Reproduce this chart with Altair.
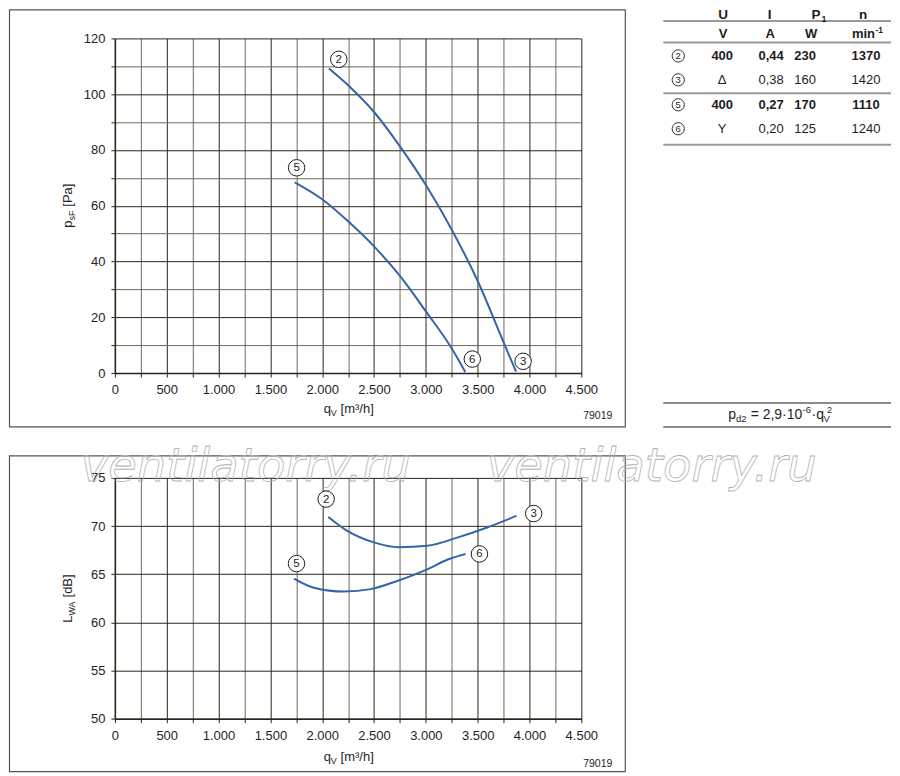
import altair as alt
import pandas as pd

# ---------------- data ----------------
# upper chart: static pressure p_sF [Pa] over q_V [m3/h]
q_2_top = [2065, 2250, 2500, 2750, 3000, 3250, 3500, 3750, 3870]
p_2_top = [109.2, 103.2, 93.6, 81.3, 67.4, 51.4, 33.0, 11.0, 0.5]
q_5_top = [1735, 2000, 2250, 2500, 2750, 3000, 3250, 3380]
p_5_top = [68.4, 62.3, 54.4, 45.4, 34.8, 22.1, 8.8, 0.4]

# lower chart: sound power L_WA [dB] over q_V [m3/h]
q_2_low = [2059, 2242, 2499, 2740, 3013, 3302, 3591, 3874]
L_2_low = [70.95, 69.5, 68.3, 67.8, 67.95, 68.8, 69.85, 71.06]
q_5_low = [1728, 1920, 2210, 2467, 2724, 3013, 3206, 3382]
L_5_low = [64.55, 63.6, 63.2, 63.45, 64.3, 65.5, 66.5, 67.1]

# circled curve labels
curve_labels = ['2', '5', '6', '3']
lbl_q_top = [2160, 1753, 3448, 3938]
lbl_p_top = [112.5, 73.6, 5.0, 4.2]
lbl_q_low = [2038, 1752, 3517, 4040]
lbl_L_low = [72.8, 66.1, 67.1, 71.3]

# axis ticks
x_ticks = [0, 250, 500, 750, 1000, 1250, 1500, 1750, 2000, 2250, 2500,
           2750, 3000, 3250, 3500, 3750, 4000, 4250, 4500]
y_ticks_top = [0, 10, 20, 30, 40, 50, 60, 70, 80, 90, 100, 110, 120]
y_ticks_low = [50, 55, 60, 65, 70, 75]

# table
tbl_sym = ['2', '3', '5', '6']
tbl_U = ['400', 'Δ', '400', 'Y']
tbl_I = ['0,44', '0,38', '0,27', '0,20']
tbl_P = ['230', '160', '170', '125']
tbl_n = ['1370', '1420', '1110', '1240']
tbl_bold = [True, False, True, False]

# ---------------- styles / layout ----------------
FONT = 'Liberation Sans'
TXT = '#1e1e1e'
MAJ = '#2b2318'
MIN = '#6f675b'
BOX = '#5b554c'
BLUE = '#3565a6'
RULE = '#9a9a9a'
W = 467
H1 = 335
H2 = 241
TX = 551            # table block offset from the upper plot's left edge
TR = 226            # table rule length past TX
ROW_Y = [22, 46, 71, 95]
COL_X = [57, 106, 140, 201]


def one():
    return alt.Chart(pd.DataFrame({'k': [0]}))


def txt(s, x, y, size=13, angle=0, align='left', weight='normal',
        color=TXT, baseline='alphabetic', font=FONT, **kw):
    mk = dict(text=s, font=font, fontSize=size, align=align, baseline=baseline,
              fontWeight=weight, color=color, **kw)
    if angle:
        mk['angle'] = angle
    return one().mark_text(**mk).encode(x=alt.value(x), y=alt.value(y))


def rule(x1, x2, y, color=RULE, width=2):
    return one().mark_rule(color=color, strokeWidth=width).encode(
        x=alt.value(x1), x2=alt.value(x2), y=alt.value(y))


def box(x1, x2, y1, y2):
    return one().mark_rect(fill='transparent', stroke=BOX, strokeWidth=1.2).encode(
        x=alt.value(x1), x2=alt.value(x2), y=alt.value(y1), y2=alt.value(y2))


def circ(x, y, size, label, fsize):
    c = one().mark_point(shape='circle', size=size, filled=True, fill='white', stroke=TXT,
                         strokeWidth=0.9, opacity=1).encode(x=alt.value(x), y=alt.value(y))
    t = txt(label, x, y + 0.5, size=fsize, align='center', baseline='middle')
    return [c, t]


def xaxis():
    return alt.Axis(
        values=x_ticks, title=None, grid=True,
        gridColor={'condition': {'test': 'datum.value % 500 === 0', 'value': MAJ}, 'value': MIN},
        gridWidth=1, domainColor=MAJ, domainWidth=1.5, tickColor=MAJ, tickSize=4, tickWidth=1,
        labelExpr="datum.value % 500 === 0 ? replace(format(datum.value, ','), ',', '.') : ''",
        labelFont=FONT, labelFontSize=13, labelColor=TXT, labelPadding=7,
        labelFlush=False, labelOverlap=False, labelBound=False)


def yaxis(vals, step):
    return alt.Axis(
        values=vals, title=None, grid=True,
        gridColor={'condition': {'test': f'datum.value % {step} === 0', 'value': MAJ}, 'value': MIN},
        gridWidth=1, domainColor=MAJ, domainWidth=1.5, tickColor=MAJ, tickSize=4, tickWidth=1,
        labelExpr=f"datum.value % {step} === 0 ? datum.label : ''",
        labelFont=FONT, labelFontSize=13, labelColor=TXT, labelPadding=6,
        labelOverlap=False, labelBound=False)


def curves_df(parts):
    return pd.concat([pd.DataFrame({'q': q, 'v': v, 'c': c}) for q, v, c in parts],
                     ignore_index=True)


def panel(df_lines, df_lbl, X, Y, extra):
    lines = alt.Chart(df_lines).mark_line(color=BLUE, strokeWidth=2, interpolate='monotone').encode(
        X, Y, detail='c:N')
    cir = alt.Chart(df_lbl).mark_point(shape='circle', size=272, filled=True, fill='white',
                                       stroke=TXT, strokeWidth=1, opacity=1).encode(X, Y)
    num = alt.Chart(df_lbl).mark_text(font=FONT, fontSize=11.5, color=TXT, baseline='middle',
                                      align='center', dy=0.5).encode(X, Y, text='lbl:N')
    return alt.layer(*extra, lines, cir, num)


# ---------------- table + formula (drawn beside the upper plot) ----------------
table = [
    rule(TX - 2, TX + TR, -17.5), rule(TX - 2, TX + TR, 4),
    rule(TX - 2, TX + TR, 55), rule(TX - 2, TX + TR, 106.5),
    rule(TX - 2, TX + TR, 365, color='#8c8c8c'), rule(TX - 2, TX + TR, 389, color='#8c8c8c'),
    txt('U', TX + 58, -19, size=13.5, weight='bold', align='center'),
    txt('I', TX + 104.5, -19, size=13.5, weight='bold', align='center'),
    txt('P', TX + 151, -19, size=13.5, weight='bold', align='center'),
    txt('1', TX + 156.5, -16, size=9, weight='bold'),
    txt('n', TX + 198, -19, size=13.5, weight='bold', align='center'),
    txt('V', TX + 58, 0, weight='bold', align='center'),
    txt('A', TX + 105, 0, weight='bold', align='center'),
    txt('W', TX + 146, 0, weight='bold', align='center'),
    txt('min', TX + 210, 0, weight='bold', align='right'),
    txt('-1', TX + 210.5, -5, size=8.5, weight='bold'),
]
for i, sym in enumerate(tbl_sym):
    wgt = 'bold' if tbl_bold[i] else 'normal'
    for cx, vals in zip(COL_X, [tbl_U, tbl_I, tbl_P, tbl_n]):
        table.append(txt(vals[i], TX + cx, ROW_Y[i], weight=wgt, align='center'))
    table += circ(TX + 13, ROW_Y[i] - 4.5, 150, sym, 9.5)
# p_d2 = 2,9·10^-6·q_V^2
table += [
    txt('p', TX + 63, 381, size=14),
    txt('d2', TX + 70.8, 384.5, size=9.5),
    txt('=', TX + 85.5, 381, size=14),
    txt('2,9·10', TX + 97.5, 381, size=14),
    txt('-6', TX + 137.5, 375, size=9.5),
    txt('·q', TX + 146.5, 381, size=14),
    txt('V', TX + 158.5, 384.5, size=9.5),
    txt('2', TX + 162, 375.5, size=9),
]

# ---------------- upper chart ----------------
X_top = alt.X('q:Q', scale=alt.Scale(domain=[0, 4500], nice=False, zero=False), axis=xaxis())
Y_top = alt.Y('v:Q', scale=alt.Scale(domain=[0, 120], nice=False, zero=False),
              axis=yaxis(y_ticks_top, 20))
top_lines = curves_df([(q_2_top, p_2_top, '2'), (q_5_top, p_5_top, '5')])
top_lbl = pd.DataFrame({'q': lbl_q_top, 'v': lbl_p_top, 'lbl': curve_labels})
top_extra = [
    box(-105.5, 511, -28.5, 389),
    txt('p', -43, 189.5, angle=270),
    txt('sF', -40, 182.3, size=9, angle=270),
    txt('[Pa]', -43, 168.5, angle=270),
    txt('q', 209, 375.5),
    txt('V', 216.2, 378.5, size=9),
    txt('[m³/h]', 226, 375.5),
    txt('79019', 498, 381, size=10.5, align='right'),
] + table
top = panel(top_lines, top_lbl, X_top, Y_top, top_extra).properties(width=W, height=H1)

# ---------------- lower chart ----------------
X_low = alt.X('q:Q', scale=alt.Scale(domain=[0, 4500], nice=False, zero=False), axis=xaxis())
Y_low = alt.Y('v:Q', scale=alt.Scale(domain=[50, 75], nice=False, zero=False),
              axis=yaxis(y_ticks_low, 5))
low_lines = curves_df([(q_2_low, L_2_low, '2'), (q_5_low, L_5_low, '5')])
low_lbl = pd.DataFrame({'q': lbl_q_low, 'v': lbl_L_low, 'lbl': curve_labels})
wm = dict(size=46.5, align='center', font='DejaVu Sans', fontStyle='italic',
          fillOpacity=0, stroke='#b3b3b3', strokeWidth=0.8)
low_extra = [
    box(-105.5, 511, -22, 294),
    txt('ventilatorry.ru', 131, 3, **wm),
    txt('ventilatorry.ru', 537.5, 3, **wm),
    txt('L', -43, 145, angle=270),
    txt('WA', -40, 137.8, size=9, angle=270),
    txt('[dB]', -43, 119.7, angle=270),
    txt('q', 209, 283),
    txt('V', 216.2, 286, size=9),
    txt('[m³/h]', 226, 283),
    txt('79019', 498, 289, size=10.5, align='right'),
]
low = panel(low_lines, low_lbl, X_low, Y_low, low_extra).properties(width=W, height=H2)

chart = alt.vconcat(top, low, spacing=105, bounds='flush').properties(padding=0).configure(
    font=FONT, view=alt.ViewConfig(strokeWidth=0))

chart.save('out.html', embed_options={'renderer': 'svg', 'actions': False})
